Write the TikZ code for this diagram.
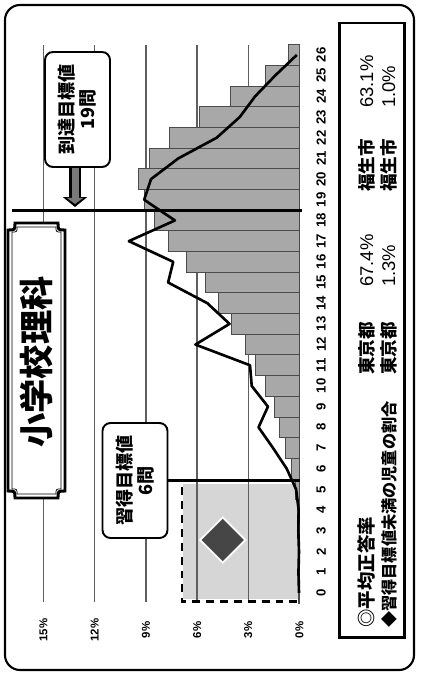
\documentclass[tikz,border=0pt]{standalone}
\usepackage{fontspec}
\setmainfont{Liberation Sans}
\newfontfamily\jpfont{Noto Sans CJK JP}
\usetikzlibrary{arrows.meta,positioning,shapes.geometric}
\definecolor{bargray}{RGB}{168,168,168}
\definecolor{edgegray}{RGB}{75,75,75}
\definecolor{gridgray}{RGB}{95,95,95}
\definecolor{zonegray}{RGB}{214,214,214}
\definecolor{markgray}{RGB}{70,70,70}
\definecolor{arrgray}{RGB}{120,120,120}
\tikzset{
  gridline/.style={gridgray, line width=0.7pt},
  bar/.style={draw=edgegray, fill=bargray, line width=0.5pt},
  distline/.style={black, line width=1.5pt, line join=round},
  goalline/.style={black, line width=1.7pt},
  acqline/.style={black, line width=1.3pt},
  zonedash/.style={black, line width=1.4pt, dash pattern=on 4.5pt off 3.4pt},
  tagbox/.style={rotate=90, draw=black, line width=1.1pt, fill=white, rounded corners=0.16cm,
    align=center, inner sep=0pt, minimum width=2.3cm, minimum height=1.3cm,
    font=\jpfont\bfseries\fontsize{10.3}{12}\selectfont},
  binlab/.style={rotate=90, inner sep=0pt, font=\bfseries\fontsize{7.5}{8}\selectfont},
  pctlab/.style={rotate=90, inner sep=0pt, font=\bfseries\fontsize{6.5}{7}\selectfont},
  legjp/.style={rotate=90, inner sep=0pt, anchor=base west, font=\jpfont\bfseries\fontsize{10}{11}\selectfont},
  legnum/.style={rotate=90, inner sep=0pt, anchor=base west, font=\fontsize{10.5}{11}\selectfont},
  diamark/.style={diamond, aspect=1, minimum size=0.92cm, inner sep=0pt, fill=markgray, draw=white, line width=1pt},
}
\begin{document}
\begin{tikzpicture}[x=0.02cm, y=-0.02cm]
\useasboundingbox (0,0) rectangle (422,675);
% outer frame
\draw[line width=1.2pt, rounded corners=0.3cm] (5,5) rectangle (414,670);

% chart (bins upward, percent leftward)
\begin{scope}[shift={(299.5,592.8)}, x={(0cm,0.4138cm)}, y={(-0.3414cm,0cm)}]
% shaded zone below the target
\fill[zonegray] (-0.3,0) rectangle (5.25,6.8);
% grid
\foreach \p in {3,6,9,12,15}
  \draw[gridline] (-0.45,\p) -- (26.47,\p);
\draw[zonedash] (5.1,6.9) -- (-0.43,6.9) -- (-0.43,-0.15);
% bars
\foreach \k/\v in {0/0.04,1/0.04,2/0.05,3/0.07,4/0.1,5/0.26,6/0.46,7/0.8,8/1.2,9/1.48,
  10/2.0,11/2.6,12/3.15,13/3.97,14/4.75,15/5.5,16/6.65,17/7.68,18/8.5,19/9.1,
  20/9.42,21/8.8,22/7.6,23/5.85,24/4.07,25/2.02,26/0.66}
  \draw[bar] (\k-0.5,0) rectangle (\k+0.5,\v);
% distribution line
\draw[distline] plot coordinates {(0,0.03) (1,0.06) (2,0.03) (3,0.07) (4,0.05) (5,0.2)
  (6,0.75) (7,1.55) (8,2.4) (9,1.85) (10,2.8) (11,2.9) (12,6.1) (13,4.1) (14,5.4)
  (15,7.7) (16,7.4) (17,10.0) (18,7.3) (19,9.1) (20,8.7) (21,7.1) (22,4.85)
  (23,3.5) (24,2.6) (25,1.43) (26,0.16)};
% target line
\coordinate (goalL) at (18.5,16.84);
\coordinate (goalR) at (18.5,-0.15);
\draw[goalline] (goalL) -- (goalR);
\coordinate (acqR) at (5.5,0);
% marker
\node[diamark] (dia) at (2.55,4.5) {};
% axis labels
\foreach \k in {0,...,26}
  \node[binlab] (n\k) at (\k,-1.27) {\k};
\foreach \p in {0,3,...,15}
  \node[pctlab] (pc\p) at (-1.8,\p) {\p\%};
\end{scope}

% title
\draw[line width=1.7pt, fill=white] (15,223) -- (58,223) .. controls (58,230) .. (65,230)
  -- (65,491) .. controls (58,491) .. (58,498) -- (15,498) .. controls (15,491) .. (8,491)
  -- (8,230) .. controls (15,230) .. (15,223) -- cycle;
\draw[line width=0.4pt] (17,227) -- (56,227) .. controls (56,232) .. (61,232)
  -- (61,489) .. controls (56,489) .. (56,494) -- (17,494) .. controls (17,489) .. (12,489)
  -- (12,232) .. controls (17,232) .. (17,227) -- cycle;
\node[rotate=90, font=\jpfont\bfseries\fontsize{19.5}{20}\selectfont] (title) at (36.5,362) {小学校理科};

% target boxes
\node[tagbox] (tgtbox) at (77.5,109.5) {到達目標値\\19問};
\node[tagbox] (acqbox) at (135,480.5) {習得目標値\\6問};
\coordinate (arrtip) at (75,207);
\draw[black, line width=0.24cm, -{Triangle[length=0.2cm, width=0.48cm]}] (tgtbox.west -| arrtip) -- (arrtip);
\draw[arrgray, line width=0.14cm, -{Triangle[length=0.12cm, width=0.32cm]}] (tgtbox.west -| arrtip) -- ++(0,36);
\draw[acqline] (acqbox.south) -- (acqR |- acqbox.south);

% legend
\draw[line width=1.7pt] (339,23) rectangle (404,637);
\node[legjp, font=\jpfont\bfseries\fontsize{10.5}{11}\selectfont] (leg1) at (373,628) {◎平均正答率};
\node[legjp] (leg1t) at (373,375) {東京都};
\node[legnum] (leg1tv) at (373,287) {67.4\%};
\node[legjp] (leg1f) at (373,192) {福生市};
\node[legnum] (leg1fv) at (373,108) {63.1\%};
\node[legjp, font=\jpfont\bfseries\fontsize{9.2}{10}\selectfont] (leg2) at (395,628) {◆習得目標値未満の児童の割合};
\node[legjp] (leg2t) at (395,375) {東京都};
\node[legnum] (leg2tv) at (395,287) {1.3\%};
\node[legjp] (leg2f) at (395,192) {福生市};
\node[legnum] (leg2fv) at (395,108) {1.0\%};
\end{tikzpicture}
\end{document}
